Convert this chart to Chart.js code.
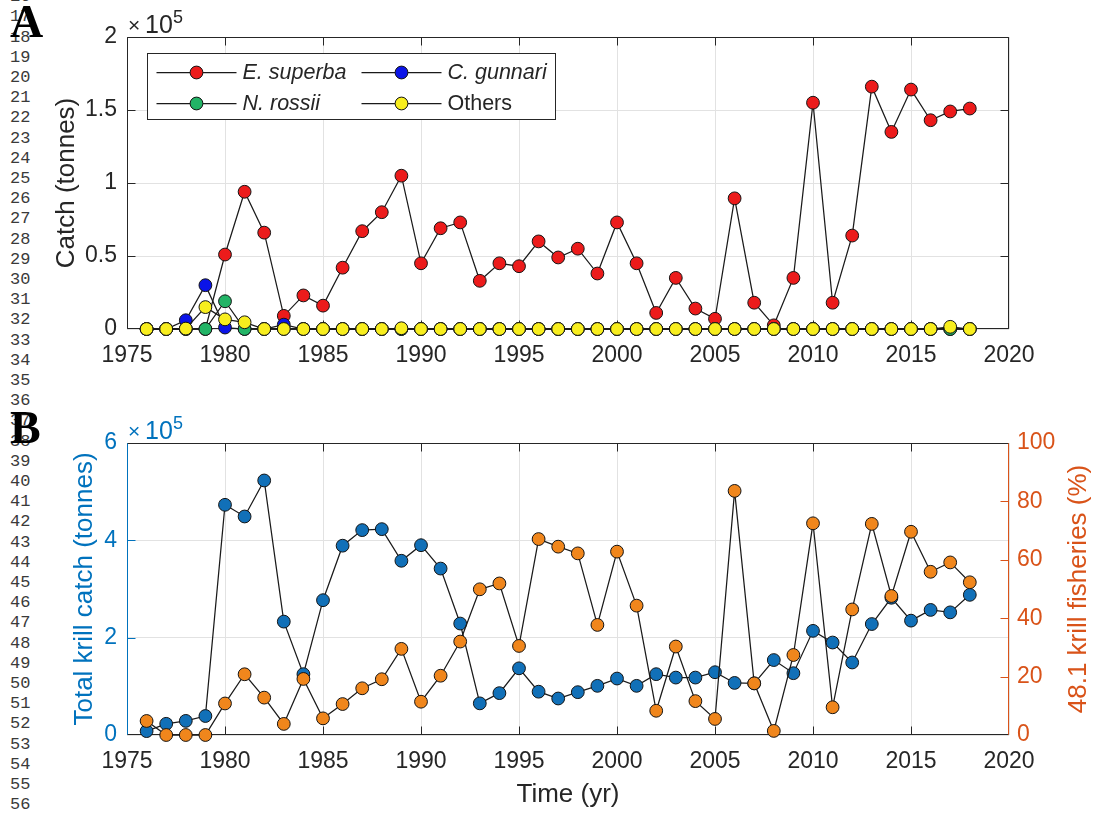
<!DOCTYPE html>
<html>
<head>
<meta charset="utf-8">
<title>Krill and finfish catch</title>
<script src="https://cdn.jsdelivr.net/npm/chart.js@4.4.1/dist/chart.umd.min.js"></script>
<style>
  html, body { margin: 0; padding: 0; background: #fff; }
  #page { position: relative; width: 1105px; height: 813px; overflow: hidden; background: #fff; }
  .ln { position: absolute; left: 10px; height: 20px; line-height: 20px;
        font: 17px "Liberation Mono", "DejaVu Sans Mono", monospace; color: #3a3a3a; }
  .tag { position: absolute; left: 10px; height: 46px; line-height: 46px;
         font: bold 46px "Liberation Serif", "DejaVu Serif", serif; color: #000; }
  canvas { position: absolute; left: 0; }
  #cA { top: 0; }
  #cB { top: 400px; }
</style>
</head>
<body>
<div id="page">
  <canvas id="cA" width="1105" height="400"></canvas>
  <canvas id="cB" width="1105" height="413"></canvas>
  <div class="tag" style="top:-5px">A</div>
  <div class="tag" style="top:401px">B</div>
</div>
<script>
// ---- data -------------------------------------------------------------
const years = [1976,1977,1978,1979,1980,1981,1982,1983,1984,1985,1986,1987,1988,1989,1990,
               1991,1992,1993,1994,1995,1996,1997,1998,1999,2000,2001,2002,2003,2004,2005,
               2006,2007,2008,2009,2010,2011,2012,2013,2014,2015,2016,2017,2018];

// catch in subarea 48.1 by species (tonnes)
const superba = [0,0,0,0,51000,94000,66000,9000,23000,16000,42000,67000,80000,105000,45000,
                 69000,73000,33000,45000,43000,60000,49000,55000,38000,73000,45000,11000,35000,14000,7000,
                 89500,18000,2500,35000,155000,18000,64000,166000,135000,164000,143000,149000,151000];
const gunnari = [0,0,6000,30000,1000,0,0,3000,0,0,0,0,0,0,0,
                 0,0,0,0,0,0,0,0,0,0,0,0,0,0,0,
                 0,0,0,0,0,0,0,0,0,0,0,0,0];
const rossii  = [0,0,0,0,19000,0,0,0,0,0,0,0,0,0,0,
                 0,0,0,0,0,0,0,0,0,0,0,0,0,0,0,
                 0,0,0,0,0,0,0,0,0,0,0,0,0];
const others  = [0,0,300,15000,6600,4600,0,0,0,0,0,0,0,500,0,
                 0,0,0,0,0,0,0,0,0,0,0,0,0,0,0,
                 0,0,0,0,0,0,0,0,0,0,0,1500,0];

// total krill catch (tonnes) and share taken in 48.1 (%)
const totalKrill = [8000,23000,29000,39000,473000,449000,523000,233000,125000,277000,389000,421000,423000,358000,390000,
                    342000,229000,65000,86000,137000,89000,75000,88000,101000,116000,101000,125000,118000,118000,129000,
                    107000,106000,154000,127000,214000,190000,149000,228000,282000,235000,257000,252000,288000];
const share481 = [4.8,0,0,0,10.8,20.8,12.8,3.8,19.2,5.7,10.6,16.0,19.1,29.5,11.4,
                  20.3,32.0,49.9,51.9,30.5,67.1,64.5,62.2,37.7,62.8,44.3,8.3,30.3,11.6,5.5,
                  83.6,17.7,1.4,27.4,72.5,9.5,43.0,72.3,47.6,69.6,55.9,59.1,52.3];

// tick values
const yearTicks  = [1975,1980,1985,1990,1995,2000,2005,2010,2015,2020];
const catchTicks = [0,50000,100000,150000,200000];
const totalTicks = [0,200000,400000,600000];
const shareTicks = [0,20,40,60,80,100];

// ---- page furniture: manuscript line numbers ---------------------------
const page = document.getElementById('page');
for (let n = 16; n <= 56; n++) {
  const d = document.createElement('div');
  d.className = 'ln';
  d.style.top = (37.5 + (n - 18) * 20.2 - 10) + 'px';
  d.textContent = String(n);
  page.insertBefore(d, page.firstChild);
}

// ---- shared style -----------------------------------------------------
const FONT = '"Liberation Sans", Arial, Helvetica, sans-serif';
const INK = '#262626';
const GRID = '#e2e2e2';
const AXBLUE = '#0072BD';
const AXORANGE = '#D95319';
Chart.defaults.font.family = FONT;
Chart.defaults.animation = false;

const pts = (vals) => years.map((y, i) => ({ x: y, y: vals[i] }));
const fixTicks = (list) => (s) => { s.ticks = list.map(v => ({ value: v })); };

function series(label, vals, fill, order) {
  return {
    label, data: pts(vals), order, clip: false,
    borderColor: '#1a1a1a', borderWidth: 1.25, tension: 0,
    pointRadius: 6.4, pointHoverRadius: 6.4, pointBorderWidth: 1,
    pointBackgroundColor: fill, pointBorderColor: '#141414'
  };
}

// box, inward tick marks
const frame = {
  id: 'frame',
  beforeDatasetsDraw(chart, args, o) {
    const { ctx, chartArea: a } = chart;
    const L = Math.round(a.left) + 0.5, R = Math.round(a.right) - 0.5;
    const T = Math.round(a.top) + 0.5, B = Math.round(a.bottom) - 0.5;
    const clamp = (v, lo, hi) => Math.min(hi, Math.max(lo, v));
    const len = 8;
    ctx.save();
    ctx.lineWidth = 1;
    const seg = (c, x1, y1, x2, y2) => {
      ctx.strokeStyle = c; ctx.beginPath(); ctx.moveTo(x1, y1); ctx.lineTo(x2, y2); ctx.stroke();
    };
    const xs = chart.scales.x;
    xs.ticks.forEach(t => {
      const p = clamp(Math.round(xs.getPixelForValue(t.value)) + 0.5, L, R);
      seg(INK, p, B, p, B - len);
      seg(INK, p, T, p, T + len);
    });
    const ls = chart.scales[o.leftScale];
    ls.ticks.forEach(t => {
      const p = clamp(Math.round(ls.getPixelForValue(t.value)) + 0.5, T, B);
      seg(o.left, L, p, L + len, p);
    });
    const rs = chart.scales[o.rightScale];
    rs.ticks.forEach(t => {
      const p = clamp(Math.round(rs.getPixelForValue(t.value)) + 0.5, T, B);
      seg(o.right, R, p, R - len, p);
    });
    seg(INK, L, T, R, T);
    seg(INK, L, B, R, B);
    seg(o.left, L, T, L, B);
    seg(o.right, R, T, R, B);
    ctx.restore();
  }
};

// axis titles and exponent labels
const labels = {
  id: 'labels',
  afterDraw(chart, args, o) {
    const { ctx, chartArea: a } = chart;
    ctx.save();
    (o.items || []).forEach(it => {
      const p = it.at(a);
      ctx.save();
      ctx.translate(p[0], p[1]);
      if (it.rot) ctx.rotate(it.rot);
      ctx.font = it.font;
      ctx.fillStyle = it.color;
      ctx.textAlign = it.align || 'center';
      ctx.textBaseline = it.baseline || 'middle';
      ctx.fillText(it.text, 0, 0);
      ctx.restore();
    });
    ctx.restore();
  }
};

// "x10^5" multiplier above the left axis
function exponentItems(color) {
  return [
    { text: '\u00d7', at: a => [a.left + 1, a.top - 5], align: 'left', baseline: 'alphabetic',
      font: '21px ' + FONT, color },
    { text: '10', at: a => [a.left + 18, a.top - 4], align: 'left', baseline: 'alphabetic',
      font: '25px ' + FONT, color },
    { text: '5', at: a => [a.left + 46, a.top - 14], align: 'left', baseline: 'alphabetic',
      font: '18px ' + FONT, color }
  ];
}

// two-column legend box
const legendBox = {
  id: 'legendBox',
  afterDraw(chart, args, o) {
    const { ctx, chartArea: a } = chart;
    const x0 = a.left + 20.5, y0 = a.top + 16.5, w = 408, h = 66;
    ctx.save();
    ctx.fillStyle = '#fff';
    ctx.fillRect(x0, y0, w, h);
    ctx.strokeStyle = INK; ctx.lineWidth = 1;
    ctx.strokeRect(x0, y0, w, h);
    const cols = [x0 + 9, x0 + 214];
    const rows = [y0 + 19, y0 + 50];
    o.order.forEach((di, k) => {
      const ds = chart.data.datasets[di];
      const cx = cols[k % 2], cy = rows[Math.floor(k / 2)];
      ctx.strokeStyle = '#1a1a1a'; ctx.lineWidth = 1.25;
      ctx.beginPath(); ctx.moveTo(cx, cy); ctx.lineTo(cx + 80, cy); ctx.stroke();
      ctx.beginPath(); ctx.arc(cx + 40, cy, 6.4, 0, Math.PI * 2);
      ctx.fillStyle = ds.pointBackgroundColor; ctx.fill();
      ctx.lineWidth = 1; ctx.strokeStyle = '#141414'; ctx.stroke();
      ctx.fillStyle = INK;
      ctx.textAlign = 'left'; ctx.textBaseline = 'middle';
      ctx.font = (o.italic[k] ? 'italic ' : '') + '21.5px ' + FONT;
      ctx.fillText(ds.label, cx + 86, cy + 1);
    });
    ctx.restore();
  }
};

const tickFont = { family: FONT, size: 23 };

function xScale(height) {
  return {
    type: 'linear', min: 1975, max: 2020,
    afterBuildTicks: fixTicks(yearTicks),
    afterFit: (s) => { s.height = height; },
    grid: { color: GRID, lineWidth: 1, drawTicks: false },
    border: { display: false },
    ticks: { color: INK, font: tickFont, padding: 13, maxRotation: 0, autoSkip: false,
             callback: (v) => String(v) }
  };
}

// ---- panel A: catch by species ----------------------------------------
new Chart(document.getElementById('cA'), {
  type: 'line',
  data: {
    datasets: [
      series('E. superba', superba, '#EC1B1B', 3),
      series('C. gunnari', gunnari, '#0B14E8', 2),
      series('N. rossii', rossii, '#22B466', 1),
      series('Others', others, '#F8EE1E', 0)
    ]
  },
  options: {
    responsive: false,
    layout: { padding: { top: 37, right: 96, left: 0, bottom: 0 } },
    plugins: {
      legend: { display: false }, tooltip: { enabled: false },
      frame: { left: INK, right: INK, leftScale: 'y', rightScale: 'y' },
      legendBox: { order: [0, 1, 2, 3], italic: [true, true, true, false] },
      labels: { items: [
        { text: 'Catch (tonnes)', at: a => [67, (a.top + a.bottom) / 2], rot: -Math.PI / 2,
          font: '26px ' + FONT, color: INK },
        ...exponentItems(INK)
      ] }
    },
    scales: {
      x: xScale(71),
      y: {
        min: 0, max: 200000,
        afterBuildTicks: fixTicks(catchTicks),
        afterFit: (s) => { s.width = 127; },
        grid: { color: GRID, lineWidth: 1, drawTicks: false },
        border: { display: false },
        ticks: { color: INK, font: tickFont, padding: 10, callback: (v) => String(v / 1e5) }
      }
    }
  },
  plugins: [frame, legendBox, labels]
});

// ---- panel B: total krill catch and share in 48.1 ------------------------
const dsTotal = series('Total krill catch', totalKrill, '#1170B8', 1);
dsTotal.yAxisID = 'y';
const dsShare = series('48.1 krill fisheries', share481, '#F0861C', 0);
dsShare.yAxisID = 'y2';

new Chart(document.getElementById('cB'), {
  type: 'line',
  data: { datasets: [dsTotal, dsShare] },
  options: {
    responsive: false,
    layout: { padding: { top: 43, right: 0, left: 0, bottom: 0 } },
    plugins: {
      legend: { display: false }, tooltip: { enabled: false },
      frame: { left: AXBLUE, right: AXORANGE, leftScale: 'y', rightScale: 'y2' },
      labels: { items: [
        { text: 'Total krill catch (tonnes)', at: a => [85, (a.top + a.bottom) / 2], rot: -Math.PI / 2,
          font: '26px ' + FONT, color: AXBLUE },
        { text: '48.1 krill fisheries (%)', at: a => [a.right + 70, (a.top + a.bottom) / 2], rot: -Math.PI / 2,
          font: '26px ' + FONT, color: AXORANGE },
        { text: 'Time (yr)', at: a => [(a.left + a.right) / 2, a.bottom + 60],
          font: '26px ' + FONT, color: INK },
        ...exponentItems(AXBLUE)
      ] }
    },
    scales: {
      x: xScale(78),
      y: {
        position: 'left', min: 0, max: 600000,
        afterBuildTicks: fixTicks(totalTicks),
        afterFit: (s) => { s.width = 127; },
        grid: { color: GRID, lineWidth: 1, drawTicks: false },
        border: { display: false },
        ticks: { color: AXBLUE, font: tickFont, padding: 10, callback: (v) => String(v / 1e5) }
      },
      y2: {
        position: 'right', min: 0, max: 100,
        afterBuildTicks: fixTicks(shareTicks),
        afterFit: (s) => { s.width = 96; },
        grid: { display: false, drawTicks: false },
        border: { display: false },
        ticks: { color: AXORANGE, font: tickFont, padding: 8, callback: (v) => String(v) }
      }
    }
  },
  plugins: [frame, labels]
});
</script>
</body>
</html>
